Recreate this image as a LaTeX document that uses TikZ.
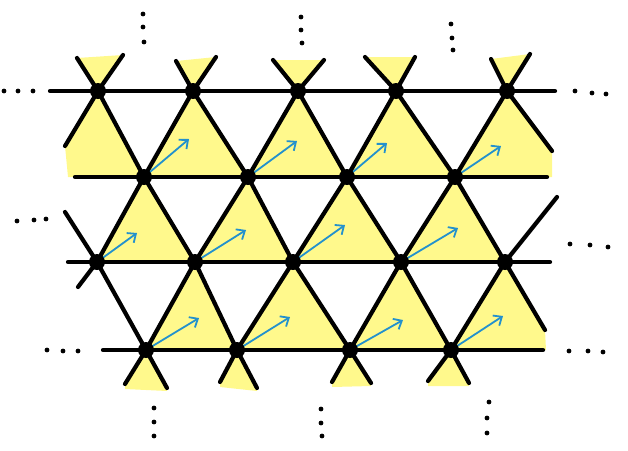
\documentclass[tikz,border=0pt]{standalone}
\usepackage{tikz}
\usetikzlibrary{arrows.meta}
\definecolor{lattyellow}{RGB}{255,249,140}
\definecolor{spinblue}{RGB}{35,145,205}

\begin{document}
\begin{tikzpicture}[x=1pt,y=-1pt,
  bond/.style={line width=4.2pt,line cap=round,line join=round},
  spin/.style={spinblue,line width=1.8pt,-{Straight Barb[length=7pt,width=12pt]}},
  site/.style={circle,fill=black,inner sep=0pt,minimum size=16pt}]
\useasboundingbox (0,0) rectangle (628,450);

% lattice sites, row by row
\foreach \n/\x in {a1/98,a2/193,a3/298,a4/396,a5/507}
\coordinate (\n) at (\x,91);
\foreach \n/\x in {b1/144,b2/248,b3/347,b4/455}
\coordinate (\n) at (\x,177);
\foreach \n/\x in {c1/97,c2/195,c3/293,c4/401,c5/505}
\coordinate (\n) at (\x,262);
\foreach \n/\x in {d1/146,d2/237,d3/350,d4/451}
\coordinate (\n) at (\x,350);

% loose ends above the top row and below the bottom row
\foreach \n/\x/\y in {a1l/77/58,a1r/123/55,a2l/176/61,a2r/216/57,a3l/273/60,
  a3r/324/60,a4l/365/57,a4r/415/57,a5l/491/59,a5r/530/54}
\coordinate (\n) at (\x,\y);
\foreach \n/\x/\y in {d1l/125/384,d1r/167/388,d2l/220/382,d2r/257/388,
  d3l/332/382,d3r/371/383,d4l/428/381,d4r/469/383}
\coordinate (\n) at (\x,\y);

% loose ends at the sides
\coordinate (e1) at (65,146);
\coordinate (e2) at (552,151);
\coordinate (e3) at (78,287);
\coordinate (e4) at (65,212);
\coordinate (e5) at (545,330);
\coordinate (e6) at (557,197);

% yellow triangles
\foreach \n in {a1,a2,a3,a4,a5}
\fill[lattyellow] (\n) -- (\n l) -- (\n r) -- cycle;
\fill[lattyellow] (a1) -- (e1) -- (68,177) -- (b1) -- cycle;
\fill[lattyellow] (a2) -- (b1) -- (b2) -- cycle;
\fill[lattyellow] (a3) -- (b2) -- (b3) -- cycle;
\fill[lattyellow] (a4) -- (b3) -- (b4) -- cycle;
\fill[lattyellow] (a5) -- (b4) -- (552,177) -- (e2) -- cycle;
\fill[lattyellow] (b1) -- (c1) -- (c2) -- cycle;
\fill[lattyellow] (b2) -- (c2) -- (c3) -- cycle;
\fill[lattyellow] (b3) -- (c3) -- (c4) -- cycle;
\fill[lattyellow] (b4) -- (c4) -- (c5) -- cycle;
\fill[lattyellow] (c2) -- (d1) -- (d2) -- cycle;
\fill[lattyellow] (c3) -- (d2) -- (d3) -- cycle;
\fill[lattyellow] (c4) -- (d3) -- (d4) -- cycle;
\fill[lattyellow] (c5) -- (d4) -- (546,350) -- (e5) -- cycle;
\foreach \n in {d1,d2,d3,d4}
\fill[lattyellow] (\n) -- (\n l) -- ([yshift=-5pt]\n l) -- ([yshift=-3pt]\n r) -- (\n r) -- cycle;

% horizontal lines
\draw[bond] (50,91) -- (a1) -- (a5) -- (555,91);
\draw[bond] (75,177) -- (b1) -- (b4) -- (547,177);
\draw[bond] (68,262) -- (c1) -- (c5) -- (550,262);
\draw[bond] (103,350) -- (d1) -- (d4) -- (543,350);

% lines going down to the right
\draw[bond] (e4) -- (c1) -- (d1) -- (d1r);
\draw[bond] (a1l) -- (a1) -- (b1) -- (c2) -- (d2) -- (d2r);
\draw[bond] (a2l) -- (a2) -- (b2) -- (c3) -- (d3) -- (d3r);
\draw[bond] (a3l) -- (a3) -- (b3) -- (c4) -- (d4) -- (d4r);
\draw[bond] (a4l) -- (a4) -- (b4) -- (c5) -- (e5);
\draw[bond] (a5l) -- (a5) -- (e2);

% lines going up to the right
\draw[bond] (e1) -- (a1) -- (a1r);
\draw[bond] (e3) -- (c1) -- (b1) -- (a2) -- (a2r);
\draw[bond] (d1l) -- (d1) -- (c2) -- (b2) -- (a3) -- (a3r);
\draw[bond] (d2l) -- (d2) -- (c3) -- (b3) -- (a4) -- (a4r);
\draw[bond] (d3l) -- (d3) -- (c4) -- (b4) -- (a5) -- (a5r);
\draw[bond] (d4l) -- (d4) -- (c5) -- (e6);

% blue arrows
\foreach \n/\dx/\dy in {b1/45/-38,b2/49/-36,b3/40/-34,b4/46/-31,
  c1/40/-29,c2/51/-32,c3/52/-37,c4/57/-34,
  d1/53/-32,d2/53/-33,d3/53/-30,d4/52/-34}
\draw[spin] (\n) -- +(\dx,\dy);

% sites
\foreach \n in {a1,a2,a3,a4,a5,b1,b2,b3,b4,c1,c2,c3,c4,c5,d1,d2,d3,d4}
\node[site] (s\n) at (\n) {};

% dots that continue the lattice
\foreach \x/\y in {143/14,143/27,144/42, 301/17,301/30,302/43, 451/24,452/38,453/50,
  4/91,18/91,33/91, 575/91,592/93,606/94,
  17/221,34/220,46/219, 570/244,590/245,608/247,
  47/350,63/351,78/351, 569/351,588/351,603/352,
  154/408,154/422,154/436, 321/409,321/423,322/436, 489/402,487/418,487/433}
\fill (\x,\y) circle (2.4pt);

\end{tikzpicture}
\end{document}
